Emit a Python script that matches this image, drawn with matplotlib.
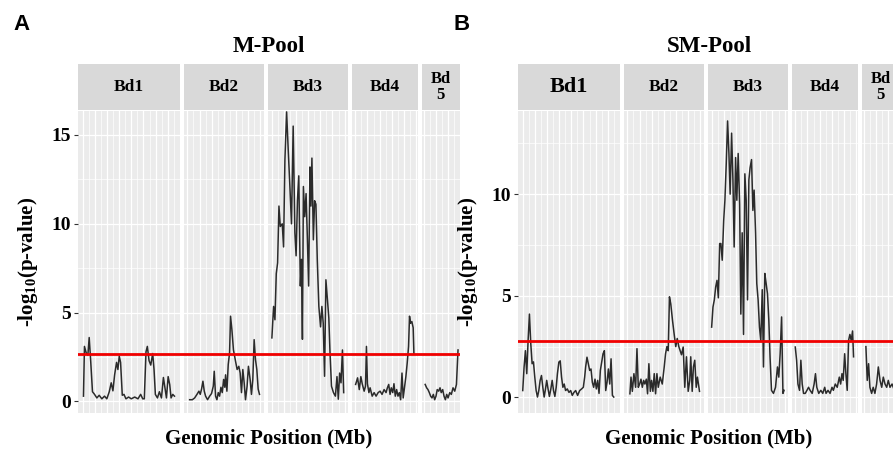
import matplotlib.pyplot as plt
from matplotlib.ticker import MultipleLocator

plt.rcParams['font.family'] = ['Liberation Serif', 'DejaVu Serif']

# ---- data ----
chromosomes = ['Bd1', 'Bd2', 'Bd3', 'Bd4', 'Bd5']
strip_labels = ['Bd1', 'Bd2', 'Bd3', 'Bd4', 'Bd\n5']
chrom_len = [76, 60, 60, 49, 28.5]  # Mb

threshold_m = 2.7
threshold_sm = 2.76

# M-Pool
m_bd1_pos = [0.7, 1.5, 2.9, 4.3, 5.4, 6.7, 8.1, 9.8, 11.7, 13.6, 15.8, 18.0, 19.9, 21.9, 23.5,
             24.9, 26.3, 27.9, 29.0, 30.1, 31.2, 32.6, 34.0, 35.6, 37.8, 40.0, 42.8, 45.5, 47.7,
             49.4, 50.7, 52.1, 53.2, 54.6, 56.0, 57.6, 58.7, 59.8, 61.5, 63.1, 64.8, 66.4, 67.5,
             68.9, 70.3, 71.6, 72.7, 74.1, 75.5]
m_bd1_val = [0.3, 3.1, 2.75, 2.6, 3.6, 2.2, 0.55, 0.4, 0.2, 0.35, 0.15, 0.3, 0.15, 0.55, 1.05,
             0.6, 1.5, 2.2, 1.8, 2.55, 2.2, 0.35, 0.4, 0.15, 0.25, 0.15, 0.25, 0.15, 0.4,
             0.15, 0.15, 2.8, 3.1, 2.3, 2.05, 2.7, 1.8, 0.4, 0.2, 0.55, 0.2, 1.35, 0.85,
             0.2, 1.4, 0.95, 0.2, 0.4, 0.3]

m_bd2_pos = [1.9, 4.1, 6.0, 7.9, 9.5, 10.6, 11.7, 12.8, 13.9, 15.0, 16.6, 18.3, 19.9, 21.3, 22.1,
             23.2, 24.3, 25.4, 26.5, 27.6, 28.7, 29.8, 30.8, 31.4, 32.5, 33.6, 34.7, 35.5, 36.6,
             37.9, 39.6, 40.9, 42.3, 43.4, 44.5, 45.6, 46.7, 47.8, 49.1, 50.2, 51.6, 52.7, 53.8,
             54.9, 56.0, 57.1, 58.2, 59.3]
m_bd2_val = [0.1, 0.1, 0.2, 0.4, 0.58, 0.4, 0.71, 1.14, 0.58, 0.3, 0.1, 0.3, 0.45, 0.86, 1.7,
             0.3, 0.1, 0.5, 0.3, 0.8, 0.5, 1.24, 0.8, 1.5, 0.58, 2.08, 2.73, 4.8, 4.05,
             2.9, 2.27, 1.8, 1.98, 1.6, 0.5, 1.8, 1.05, 0.1, 0.86, 1.98, 1.24, 0.4, 1.24,
             3.48, 2.36, 1.8, 0.7, 0.4]

m_bd3_pos = [0.2, 1.6, 2.7, 3.8, 4.9, 6.0, 7.1, 8.7, 9.8, 10.9, 12.3, 13.6, 15.0, 16.3, 17.7,
             19.1, 20.1, 21.2, 22.3, 23.6, 24.5, 25.3, 26.1, 27.2, 28.3, 29.4, 30.4, 31.5, 32.3,
             33.1, 34.3, 35.3, 36.4, 37.5, 38.8, 40.2, 41.3, 42.4, 43.5, 44.6, 45.9, 47.0, 48.0,
             49.2, 50.8, 52.4, 53.7, 54.8, 55.9, 57.0, 58.2, 59.2]
m_bd3_val = [3.58, 5.35, 4.6, 7.2, 7.8, 11.0, 9.85, 10.0, 8.7, 13.6, 16.3, 14.2, 12.1, 10.0, 15.5,
             9.5, 8.2, 11.3, 12.7, 6.5, 8.0, 3.5, 12.1, 10.4, 11.7, 9.1, 6.5, 13.2, 11.0,
             13.7, 9.1, 11.3, 11.1, 8.0, 5.35, 4.2, 5.35, 4.4, 1.42, 6.85, 5.7, 4.7, 2.7,
             0.86, 0.5, 0.3, 1.4, 0.13, 1.6, 1.05, 2.9, 0.5]

m_bd4_pos = [0.3, 1.9, 3.3, 4.6, 5.7, 7.3, 8.4, 9.2, 10.0, 11.2, 12.2, 13.9, 15.5, 17.1, 18.8,
             20.4, 22.0, 23.7, 25.3, 26.4, 27.5, 28.6, 29.6, 30.8, 31.8, 32.9, 34.0, 35.1, 36.2,
             37.3, 38.4, 39.4, 40.6, 41.6, 42.7, 43.8, 44.6, 45.4, 46.5, 47.6, 48.2]
m_bd4_val = [0.96, 1.33, 0.67, 1.4, 1.0, 0.58, 0.86, 3.1, 1.0, 0.5, 0.77, 0.3, 0.5, 0.3, 0.5,
             0.58, 0.4, 0.67, 0.5, 0.77, 0.96, 0.4, 0.77, 0.5, 1.0, 0.3, 0.67, 0.3, 0.5,
             0.1, 1.6, 0.2, 0.86, 1.4, 2.17, 3.1, 4.8, 4.4, 4.5, 4.15, 2.7]

m_bd5_pos = [1.3, 2.5, 3.6, 4.7, 5.8, 6.9, 8.0, 9.1, 10.2, 11.2, 12.4, 13.5, 14.5, 15.7, 16.8,
             17.9, 19.0, 20.1, 21.5, 22.8, 24.2, 25.6, 27.0, 28.3]
m_bd5_val = [0.96, 0.77, 0.67, 0.5, 0.3, 0.2, 0.4, 0.1, 0.3, 0.67, 0.58, 0.77, 0.5, 0.67, 0.3,
             0.1, 0.4, 0.2, 0.5, 0.4, 0.77, 0.58, 0.96, 2.9]

# SM-Pool
s_bd1_pos = [0.1, 1.2, 2.3, 3.4, 4.5, 5.6, 6.7, 7.8, 8.9, 10.0, 11.1, 12.2, 13.3, 14.4, 15.5,
             16.6, 17.7, 18.8, 19.8, 20.9, 22.0, 23.2, 24.3, 25.4, 26.5, 27.6, 28.6, 29.8, 30.9,
             32.0, 33.1, 34.2, 35.3, 36.7, 38.1, 39.5, 40.8, 42.2, 43.6, 45.2, 46.9, 48.5, 49.9,
             51.0, 51.8, 52.9, 54.0, 55.1, 56.2, 57.3, 58.4, 59.5, 60.6, 61.7, 62.8, 63.9, 65.0,
             66.1, 67.2, 68.3, 69.4, 70.5, 71.6, 72.7, 73.8, 74.9]
s_bd1_val = [0.34, 1.5, 2.3, 1.17, 2.8, 4.1, 2.65, 1.66, 1.75, 1.0, 0.34, 0.02, 0.34, 0.84, 1.08,
             0.5, 0.02, 0.42, 0.84, 0.42, 0.05, 0.42, 0.84, 0.34, 0.05, 0.5, 1.17, 1.74, 1.8,
             1.0, 0.5, 0.66, 0.34, 0.42, 0.25, 0.34, 0.1, 0.25, 0.34, 0.1, 0.34, 0.42, 0.5,
             1.0, 1.5, 1.98, 1.66, 1.33, 1.4, 0.75, 0.5, 0.9, 0.42, 0.84, 0.2, 1.33, 1.74,
             2.15, 2.3, 0.34, 0.75, 1.4, 0.66, 1.9, 0.1, 0.02]

s_bd2_pos = [2.1, 3.0, 4.1, 5.4, 6.8, 7.9, 9.0, 10.1, 11.2, 12.3, 13.4, 14.4, 15.6, 16.6, 17.7,
             18.9, 19.9, 21.0, 22.1, 23.2, 24.3, 25.4, 27.0, 28.7, 30.3, 31.4, 32.5, 33.6, 34.6,
             35.7, 37.1, 38.5, 39.8, 41.0, 42.3, 43.4, 44.5, 45.9, 47.2, 48.6, 50.0, 51.3, 52.1,
             53.3, 54.3, 55.4, 56.6, 57.6, 59.3]
s_bd2_val = [0.18, 1.0, 0.3, 1.17, 0.5, 2.4, 0.5, 0.66, 0.9, 0.5, 0.84, 0.66, 0.9, 0.18, 1.66,
             0.3, 0.84, 0.3, 1.17, 0.18, 1.17, 0.5, 1.0, 0.66, 1.5, 2.15, 2.5, 2.3, 4.95,
             4.6, 3.8, 3.1, 2.5, 2.9, 2.5, 2.3, 2.1, 2.48, 0.5, 2.0, 0.3, 0.84, 2.0,
             0.3, 1.5, 1.83, 0.5, 1.0, 0.3]

s_bd3_pos = [0.0, 1.1, 2.2, 3.3, 4.4, 5.5, 6.6, 7.6, 8.7, 9.9, 10.9, 12.0, 13.1, 14.2, 15.2,
             16.4, 17.5, 18.5, 19.7, 20.7, 21.8, 23.0, 24.0, 25.1, 26.2, 27.3, 28.4, 29.5, 30.6,
             31.6, 32.8, 33.9, 34.9, 36.1, 37.1, 38.2, 39.3, 40.4, 41.6, 42.6, 43.7, 44.8, 45.9,
             47.0, 48.0, 49.2, 50.8, 52.5, 54.1, 55.2, 56.3, 57.5, 58.6, 59.5]
s_bd3_val = [3.46, 4.45, 4.8, 5.43, 5.76, 4.9, 7.57, 7.57, 6.75, 8.7, 9.7, 11.5, 13.6, 12.0, 10.0,
             13.0, 10.7, 7.4, 11.8, 9.7, 12.0, 9.5, 4.1, 8.1, 3.1, 11.0, 9.7, 4.8, 10.7,
             11.3, 11.7, 9.2, 10.2, 8.1, 5.6, 4.8, 3.46, 2.8, 5.3, 1.5, 6.1, 5.6, 5.1,
             3.8, 2.0, 0.35, 0.2, 0.5, 1.5, 1.0, 2.15, 3.96, 0.2, 0.35]

s_bd4_pos = [0.0, 1.1, 2.2, 3.5, 4.6, 5.7, 6.8, 8.2, 9.6, 10.9, 12.2, 13.9, 15.5, 16.6, 17.7,
             19.3, 21.0, 22.6, 24.2, 25.3, 26.9, 28.6, 30.2, 31.3, 32.9, 34.5, 36.2, 37.3, 38.4,
             39.4, 40.6, 41.6, 42.7, 43.8, 44.9, 46.0, 47.1, 47.9]
s_bd4_val = [2.48, 1.83, 0.66, 0.35, 1.83, 0.66, 0.2, 0.2, 0.35, 0.5, 0.35, 0.2, 0.66, 1.17, 0.5,
             0.2, 0.35, 0.2, 0.5, 0.2, 0.35, 0.2, 0.5, 0.35, 0.66, 0.5, 1.0, 0.66, 1.17,
             0.84, 2.15, 1.17, 0.35, 2.8, 3.1, 2.8, 3.27, 2.0]

s_bd5_pos = [1.9, 3.0, 4.1, 5.2, 6.6, 7.9, 9.3, 10.7, 12.1, 13.5, 14.9, 16.2, 17.6, 19.0, 20.3,
             21.7, 23.4, 25.0, 26.5, 28.0]
s_bd5_val = [2.5, 0.84, 1.66, 0.5, 0.2, 0.5, 0.2, 0.66, 1.5, 0.84, 0.5, 1.0, 0.66, 0.5, 0.84,
             0.5, 0.66, 0.4, 0.9, 0.5]

m_pos = [m_bd1_pos, m_bd2_pos, m_bd3_pos, m_bd4_pos, m_bd5_pos]
m_val = [m_bd1_val, m_bd2_val, m_bd3_val, m_bd4_val, m_bd5_val]
s_pos = [s_bd1_pos, s_bd2_pos, s_bd3_pos, s_bd4_pos, s_bd5_pos]
s_val = [s_bd1_val, s_bd2_val, s_bd3_val, s_bd4_val, s_bd5_val]

# ---- layout (pixels) ----
W, H = 893, 450
fig = plt.figure(figsize=(W / 100, H / 100), dpi=100)


def px_axes(x, y_top, w, h):
    return fig.add_axes([x / W, 1 - (y_top + h) / H, w / W, h / H])


def draw_pool(left, title, letter, positions, values, ylim, yticks, threshold, strip_sizes):
    strip_top, panel_top, panel_bot = 64, 111, 412.5
    gap, total = 4, 382
    scale = (total - gap * (len(chrom_len) - 1)) / (1.1 * sum(chrom_len))
    x = left
    for i, L in enumerate(chrom_len):
        w = 1.1 * L * scale
        ax = px_axes(x, panel_top, w, panel_bot - panel_top)
        ax.set_facecolor('#EBEBEB')
        for s in ax.spines.values():
            s.set_visible(False)
        ax.plot(positions[i], values[i], color='#2b2b2b', lw=1.1)
        ax.set_xlim(-0.05 * L, 1.05 * L)
        ax.set_ylim(*ylim)
        ax.xaxis.set_major_locator(MultipleLocator(10))
        ax.xaxis.set_minor_locator(MultipleLocator(5))
        ax.set_yticks(yticks)
        ax.yaxis.set_minor_locator(MultipleLocator(2.5))
        ax.grid(which='major', color='white', lw=0.9)
        ax.grid(which='minor', color='white', lw=0.5)
        ax.set_axisbelow(True)
        ax.tick_params(axis='x', which='both', length=0, labelbottom=False)
        ax.tick_params(axis='y', which='minor', length=0)
        if i == 0:
            ax.tick_params(axis='y', which='major', length=3, width=0.8, color='#333333',
                           pad=2, labelsize=14)
            for lab in ax.get_yticklabels():
                lab.set_fontweight('bold')
        else:
            ax.tick_params(axis='y', which='major', length=0, labelleft=False)

        sax = px_axes(x, strip_top, w, panel_top - 1 - strip_top)
        sax.set_facecolor('#D9D9D9')
        sax.set_xticks([])
        sax.set_yticks([])
        for s in sax.spines.values():
            s.set_visible(False)
        sax.text(0.5, 0.5, strip_labels[i], ha='center', va='center', fontsize=strip_sizes[i],
                 fontweight='bold', linespacing=1.0, transform=sax.transAxes)
        x += w + gap

    # threshold line across all facets
    oax = px_axes(left, panel_top, total, panel_bot - panel_top)
    oax.set_ylim(*ylim)
    oax.axis('off')
    oax.axhline(threshold, color='#F00000', lw=2)

    cx = left + total / 2
    fig.text(cx / W, 1 - 52 / H, title, ha='center', va='baseline', fontsize=16.5,
             fontweight='bold')
    fig.text(cx / W, 1 - 443 / H, 'Genomic Position (Mb)', ha='center', va='baseline',
             fontsize=15, fontweight='bold')
    fig.text((left - 50) / W, 1 - 262 / H, r'-log$_\mathregular{10}$(p-value)', rotation=90,
             ha='center', va='center', fontsize=15, fontweight='bold')
    fig.text((left - 65) / W, 1 - 30 / H, letter, ha='left', va='baseline', fontsize=16,
             fontweight='bold', family=['Liberation Sans', 'DejaVu Sans'])


draw_pool(78, 'M-Pool', 'A', m_pos, m_val, (-0.62, 16.35), [0, 5, 10, 15], threshold_m,
          [12.5, 12.5, 12.5, 12.5, 12])
draw_pool(518, 'SM-Pool', 'B', s_pos, s_val, (-0.74, 14.09), [0, 5, 10], threshold_sm,
          [16, 12.5, 12.5, 12.5, 12])

fig.savefig('out.png', dpi=100)
